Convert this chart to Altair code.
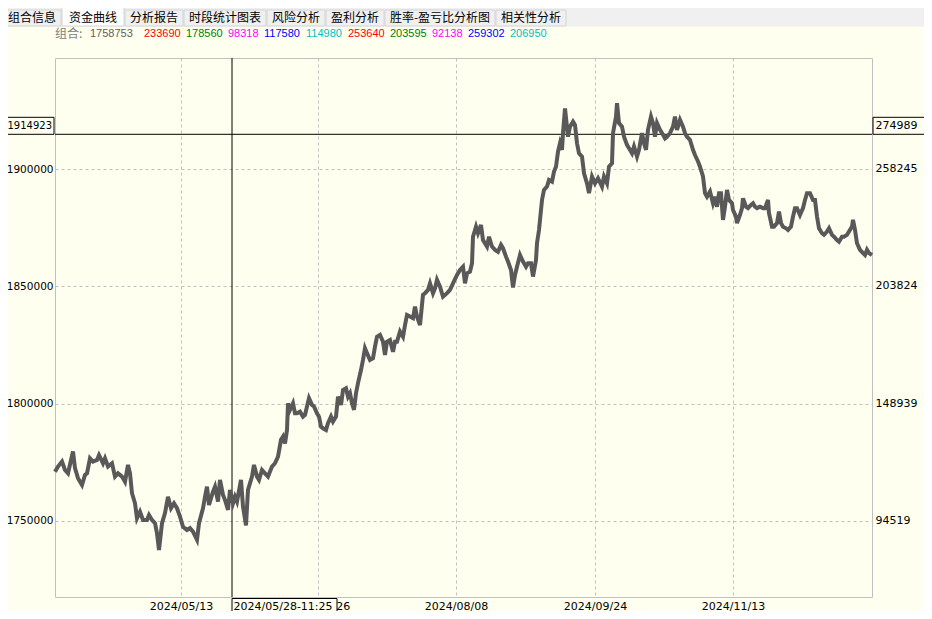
import altair as alt
import pandas as pd

# ---------------- data ----------------
bar = [
    0, 3, 7, 10, 13, 18, 20, 23, 27, 30, 32, 35, 38, 42, 44, 48, 50, 53, 57, 60,
    63, 67, 70, 73, 75, 77, 80, 82, 85, 88, 92, 94, 97, 100, 102, 104, 107, 110, 113, 116,
    119, 122, 125, 128, 132, 135, 138, 142, 144, 148, 150, 152, 154, 158, 160, 163, 165, 168, 170, 173,
    175, 178, 180, 182,
    186, 188, 191, 193, 197, 199, 202, 204, 207, 210, 213, 217, 220, 223, 226, 228, 230, 232, 233, 235,
    238, 240, 242, 245, 248, 250, 252, 254, 257, 259, 262, 264, 266, 268, 271, 273, 276, 278, 281, 283,
    286, 288, 291, 293, 295, 297, 299, 301, 303, 306, 308, 310, 312, 315, 318, 320, 322, 325, 328, 330,
    332, 335, 338, 340, 342, 345, 348, 350, 352, 355, 358, 360, 362, 365, 368, 370, 373, 375, 378, 380,
    382,
    385, 388, 392, 395, 398, 402, 405, 408, 410, 412, 415, 417, 418, 421, 423, 426, 428, 432, 434, 437,
    440, 443, 446, 448, 451, 453, 456, 458, 460, 462, 465, 468, 471, 473, 476, 478, 481, 482, 484,
    487, 489, 492, 494, 497, 499, 501, 503, 505, 507, 508, 510, 513, 515, 518, 520, 522, 524, 527, 529,
    532, 534, 537, 540, 543, 547, 549, 552, 554, 557, 558, 561, 562, 564, 567, 569, 572, 574, 577, 579,
    582, 584, 587, 589, 591, 593, 596, 598, 600, 602, 605, 608, 610, 612, 615, 618, 620, 622, 625, 628,
    630, 632, 635, 638, 640, 643,
    645, 648, 650, 652, 655, 658, 660, 662, 664, 666, 668, 670, 672, 674, 677, 678, 681, 682, 685, 687,
    688, 691, 693, 696, 698, 700, 702, 705, 708, 710, 713, 714, 717, 719, 722, 724, 726, 728, 731, 733,
    736, 738, 740, 742, 745, 748, 750, 752, 755, 758, 760, 762, 764, 767, 769, 772, 774, 777, 779, 782,
    784, 787, 789, 792, 794, 797, 798, 800, 802, 805, 808, 810, 812, 814, 817,
]

equity = [
    1770900, 1773100, 1775200, 1771600, 1770200, 1779500, 1772400, 1768100, 1765200, 1769500,
    1770200, 1776600, 1775200, 1775900, 1778000, 1774500, 1776600, 1773100, 1774500, 1768800,
    1770200, 1768800, 1766600, 1773800, 1770200, 1761700, 1757400, 1751000, 1753800, 1750300,
    1750300, 1752400, 1750300, 1748900, 1744600, 1737500, 1748900, 1753200, 1760200, 1755300,
    1757400, 1755300, 1751700, 1747400, 1746000, 1746800, 1745300, 1741800, 1748900, 1755300,
    1760200, 1764500, 1756700, 1762400, 1764500, 1758100, 1767400, 1761000, 1758800, 1754600,
    1763100, 1757400, 1760200, 1758100,
    1767400, 1756000, 1748000, 1763100, 1768800, 1773800, 1768800, 1767400, 1771600, 1770200,
    1768800, 1773100, 1774500, 1777300, 1784500, 1785900, 1783000, 1788700, 1800100, 1797300,
    1800100, 1795800, 1795800, 1796500, 1794400, 1795100, 1798700, 1802300, 1799400, 1798700,
    1795800, 1794400, 1790100, 1789400, 1788700, 1791600, 1794400, 1792300, 1794400, 1802900,
    1799400, 1805800, 1806500, 1802900, 1804400, 1800100, 1797300, 1804400, 1808700, 1814300,
    1818600, 1823600, 1821500, 1818600, 1819300, 1824300, 1828500, 1829300, 1826400, 1820700,
    1826400, 1827100, 1822100, 1826400, 1826400, 1830700, 1828500, 1833500, 1837800, 1837100,
    1836400, 1841400, 1837100, 1833500, 1846400, 1847100, 1848500, 1851300, 1847100, 1849200,
    1852800,
    1849900, 1845600, 1847100, 1848500, 1851300, 1854900, 1857000, 1858400, 1851300, 1855600,
    1856300, 1859900, 1871200, 1875500, 1872700, 1876200, 1869800, 1867000, 1871200, 1867000,
    1865600, 1864800, 1867700, 1866300, 1862700, 1860600, 1857000, 1849500, 1854900, 1858400,
    1863400, 1860600, 1858400, 1859900, 1859900, 1854200, 1861300, 1868400, 1874100,
    1886900, 1891200, 1892600, 1895400, 1894700, 1899000, 1901100, 1907500, 1911100, 1908300,
    1915400, 1926000, 1913900, 1918200, 1920300, 1918900, 1911100, 1906800, 1905400, 1898300,
    1894000, 1889800, 1896900, 1894000, 1896200, 1892600, 1896900, 1894000, 1901100, 1902600,
    1915400, 1922500, 1928200, 1919700, 1918200, 1913900, 1910400, 1909000, 1906800, 1909700,
    1905400, 1908300, 1915400, 1911100, 1908300, 1916800, 1922500, 1919700, 1913900, 1919700,
    1916800, 1914700, 1913200, 1913900, 1915400, 1918200, 1922500, 1916800, 1921100, 1918200,
    1915400, 1913900, 1912500, 1908300, 1906100, 1903300,
    1901100, 1896900, 1889800, 1888300, 1890500, 1885500, 1888300, 1884000, 1889800, 1889800,
    1878400, 1884000, 1891200, 1886900, 1885500, 1882600, 1879800, 1877000, 1880500, 1883400,
    1887600, 1884000, 1883400, 1884800, 1885500, 1884000, 1883400, 1884000, 1883400, 1883400,
    1886900, 1881200, 1875500, 1875500, 1877000, 1881900, 1877000, 1875500, 1874800, 1874100,
    1875500, 1879800, 1883400, 1883400, 1880500, 1883400, 1886900, 1889800, 1889800, 1886900,
    1886900, 1879800, 1874800, 1872700, 1872000, 1873400, 1874800, 1872000, 1871200, 1869800,
    1869100, 1871200, 1871200, 1872000, 1873400, 1875500, 1878400, 1874100, 1868400, 1865600,
    1864200, 1863400, 1865600, 1864200, 1863400,
]
assert len(bar) == len(equity)

x_tick_bars = [126, 263, 401, 540, 678]
x_tick_labels = ["2024/05/13", "2024/06/26", "2024/08/08", "2024/09/24", "2024/11/13"]
y_ticks = [1750000, 1800000, 1850000, 1900000]
y_right_labels = ["94519", "148939", "203824", "258245"]

cursor_bar = 177
cursor_time = "2024/05/28-11:25"
cursor_value = 1914923
cursor_right = "274989"

legend_name = "组合:"
legend_total = "1758753"
legend_values = ["233690", "178560", "98318", "117580", "114980",
                 "253640", "203595", "92138", "259302", "206950"]
legend_colors = ["#ff0000", "#008000", "#ff00ff", "#0000ff", "#00c0c0",
                 "#ff0000", "#008000", "#ff00ff", "#0000ff", "#00c0c0"]

tabs = ["组合信息", "资金曲线", "分析报告", "时段统计图表", "风险分析",
        "盈利分析", "胜率-盈亏比分析图", "相关性分析"]
active_tab = 1

# ---------------- styling ----------------
W, H = 817, 539
CREAM = "#fffff0"
GRID = "#c0c0c0"
NUM_FONT = "DejaVu Sans"
CJK_FONT = "Noto Sans CJK SC"

x_scale = alt.Scale(domain=[0, 817], nice=False, zero=False)
y_scale = alt.Scale(domain=[1717400, 1947500], nice=False, zero=False)

label_expr = " : ".join(
    f"datum.value == {b} ? '{l}'" for b, l in zip(x_tick_bars, x_tick_labels)
) + " : ''"

df = pd.DataFrame({"bar": bar, "equity": equity})
dummy = pd.DataFrame({"k": [0]})


def txt(s, x, y, color="black", font=NUM_FONT, size=11, align="left"):
    return alt.Chart(dummy).mark_text(
        text=s, align=align, baseline="middle", font=font, fontSize=size, color=color
    ).encode(x=alt.value(x), y=alt.value(y))


def box(x1, x2, y1, y2, fill, stroke):
    return alt.Chart(dummy).mark_rect(fill=fill, stroke=stroke, strokeWidth=1).encode(
        x=alt.value(x1), x2=alt.value(x2), y=alt.value(y1), y2=alt.value(y2)
    )


layers = []

# top gray strip with tabs
layers.append(box(-60, W + 70, -62, -32, "#f0f0f0", "#f0f0f0"))
tx = -52
for i, name in enumerate(tabs):
    w = sum(4 if ord(c) < 128 else 12 for c in name) + 10 + (4 if i == active_tab else 0)
    top = -52 if i == active_tab else -48
    fill = "#ffffff" if i == active_tab else "#f0f0f0"
    layers.append(box(tx, tx + w, top, -32, fill, "#d4d4d4"))
    layers.append(txt(name, tx + w / 2, -40.5, font=CJK_FONT, size=12, align="center"))
    tx += w + 1

# legend row
layers.append(txt(legend_name, 0, -24.5, color="#808080", font=CJK_FONT, size=12))
layers.append(txt(legend_total, 35, -24.5, color="#606060", font="Liberation Sans", size=11))
lx = 89
for v, c in zip(legend_values, legend_colors):
    layers.append(txt(v, lx, -24.5, color=c, font="Liberation Sans", size=11))
    lx += 6 * len(v) + 6

cur_df = pd.DataFrame({"bar": [cursor_bar], "equity": [cursor_value],
                       "time": [cursor_time], "left": [str(cursor_value)],
                       "right": [cursor_right]})

# crosshair (under the curve)
layers.append(alt.Chart(cur_df).mark_rule(color="black", strokeWidth=1).encode(
    x=alt.X("bar:Q", scale=x_scale)))
layers.append(alt.Chart(cur_df).mark_rule(color="black", strokeWidth=1).encode(
    y=alt.Y("equity:Q", scale=y_scale)))

# equity curve
line = alt.Chart(df).mark_line(color="#595959", strokeWidth=4).encode(
    x=alt.X("bar:Q", scale=x_scale, title=None,
            axis=alt.Axis(values=x_tick_bars, labelExpr=label_expr, grid=True,
                          gridColor=GRID, gridDash=[3, 3], gridWidth=1, ticks=False,
                          domain=False, labelFont=NUM_FONT, labelFontSize=11,
                          labelColor="black", labelPadding=3, labelFlush=False,
                          labelOverlap=False)),
    y=alt.Y("equity:Q", scale=y_scale, title=None,
            axis=alt.Axis(values=y_ticks, format="d", grid=True, gridColor=GRID,
                          gridDash=[3, 3], gridWidth=1, ticks=False, domain=False,
                          labelFont=NUM_FONT, labelFontSize=10.5, labelColor="black",
                          labelPadding=2, labelFlush=False, labelOverlap=False)),
)
layers.append(line)

# right-hand labels
right_df = pd.DataFrame({"equity": y_ticks, "label": y_right_labels})
layers.append(alt.Chart(right_df).mark_text(
    align="left", baseline="middle", font=NUM_FONT, fontSize=11, color="black"
).encode(x=alt.value(W + 3.5), y=alt.Y("equity:Q", scale=y_scale), text="label:N"))

# crosshair boxes
layers.append(alt.Chart(cur_df).mark_rect(
    fill=CREAM, stroke="black", strokeWidth=1, yOffset=-17, y2Offset=0
).encode(x=alt.value(-56), x2=alt.value(-1),
         y=alt.Y("equity:Q", scale=y_scale), y2=alt.Y2("equity")))
layers.append(alt.Chart(cur_df).mark_text(
    align="right", baseline="middle", font=NUM_FONT, fontSize=10, color="black", dy=-8.5
).encode(x=alt.value(-3), y=alt.Y("equity:Q", scale=y_scale), text="left:N"))

layers.append(alt.Chart(cur_df).mark_rect(
    fill=CREAM, stroke="black", strokeWidth=1, yOffset=-17, y2Offset=0
).encode(x=alt.value(W + 1), x2=alt.value(W + 70),
         y=alt.Y("equity:Q", scale=y_scale), y2=alt.Y2("equity")))
layers.append(alt.Chart(cur_df).mark_text(
    align="left", baseline="middle", font=NUM_FONT, fontSize=11, color="black", dy=-8.5
).encode(x=alt.value(W + 3.5), y=alt.Y("equity:Q", scale=y_scale), text="right:N"))

layers.append(alt.Chart(cur_df).mark_rect(
    fill=CREAM, stroke="black", strokeWidth=1, x2Offset=105
).encode(x=alt.X("bar:Q", scale=x_scale), x2=alt.X2("bar"),
         y=alt.value(H + 1.5), y2=alt.value(H + 18)))
layers.append(alt.Chart(cur_df).mark_text(
    align="left", baseline="middle", font=NUM_FONT, fontSize=11, color="black", dx=1.5
).encode(x=alt.X("bar:Q", scale=x_scale), y=alt.value(H + 9.5), text="time:N"))

chart = alt.layer(*layers).properties(
    width=W, height=H,
    padding={"left": 47, "top": 50, "right": 52, "bottom": 14},
    autosize=alt.AutoSizeParams(type="none"),
    background=CREAM,
).configure_view(stroke=GRID, fill=CREAM)

chart.save("out.html", embed_options={"renderer": "svg", "actions": False})
